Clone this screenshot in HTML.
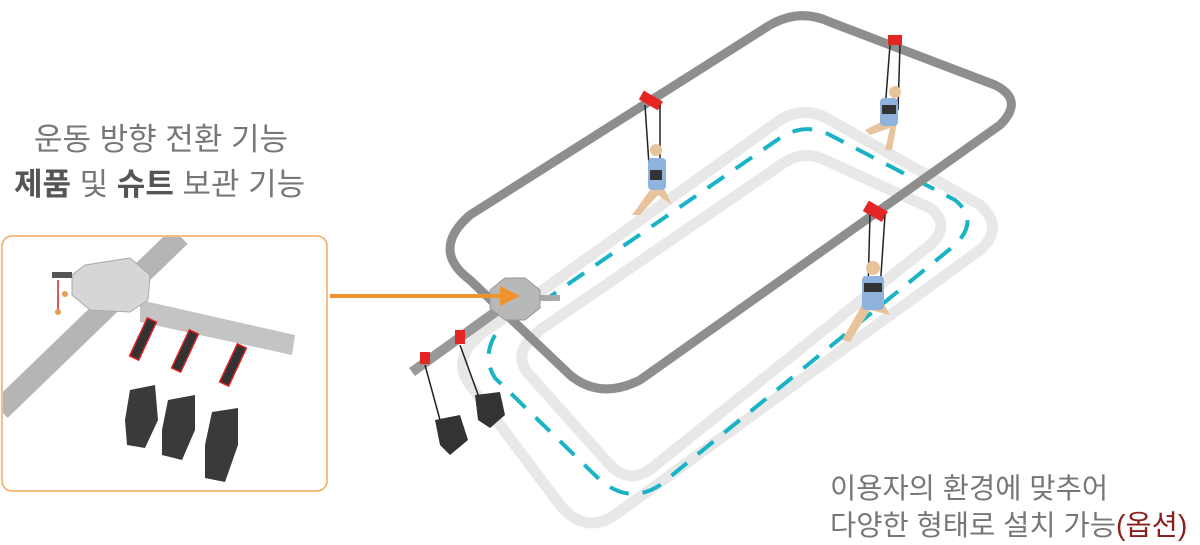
<!DOCTYPE html>
<html><head><meta charset="utf-8"><style>
html,body{margin:0;padding:0;background:#fff;}
body{width:1200px;height:545px;position:relative;overflow:hidden;font-family:"Liberation Sans","Noto Sans CJK KR",sans-serif;}
.t{position:absolute;color:#777;font-size:31px;white-space:nowrap;}
b{color:#555;}
</style></head><body>
<svg width="1200" height="545" style="position:absolute;left:0;top:0">
 <path d="M470,345 Q455,365 470,385 L560,505 Q585,535 615,515 L980,250 Q1005,228 980,205 L830,120 Q805,105 780,120 L480,335 Z" fill="none" stroke="#e8e8e8" stroke-width="11"/>
 <path d="M530,340 Q515,355 527,372 L610,465 Q630,485 652,468 L930,245 Q952,225 930,208 L825,160 Q805,150 785,162 L540,330 Z" fill="none" stroke="#e8e8e8" stroke-width="11"/>
 <path d="M495,335 Q482,358 495,378 L600,480 Q630,505 660,485 L955,245 Q980,220 955,200 L830,135 Q805,122 780,138 L545,300" fill="none" stroke="#19b3c6" stroke-width="4" stroke-dasharray="20,14"/>
 <path d="M470,280 Q430,250 470,215 L770,25 Q800,8 830,22 L995,85 Q1025,100 1000,125 L640,380 Q600,400 570,375 Z" fill="none" stroke="#8e8e8e" stroke-width="9" stroke-linejoin="round"/>
 <line x1="505" y1="305" x2="412" y2="372" stroke="#999" stroke-width="10"/>
 <line x1="530" y1="298" x2="560" y2="298" stroke="#aaa" stroke-width="6"/>
 <polygon points="505,278 525,278 540,290 540,308 525,320 505,320 490,308 490,290" fill="#b8b8b8" stroke="#999"/>
 <g fill="#e52424">
  <rect x="640" y="95" width="22" height="10" transform="rotate(30 650 100)"/>
  <rect x="888" y="35" width="14" height="10"/>
  <rect x="865" y="205" width="22" height="12" transform="rotate(30 875 210)"/>
  <rect x="420" y="352" width="10" height="12"/>
  <rect x="455" y="330" width="10" height="14"/>
 </g>
 <g stroke="#222" stroke-width="1.5" fill="none">
  <path d="M645,105 L650,180 M660,105 L660,180"/>
  <path d="M890,45 L885,110 M900,45 L898,110"/>
  <path d="M870,215 L868,290 M885,215 L880,290"/>
  <path d="M425,365 L440,420 M460,345 L480,400"/>
 </g>
 <g fill="#e7c49c">
  <circle cx="656" cy="150" r="6"/><path d="M650,190 L632,215 L640,215 L658,195 L672,205 L665,190Z"/>
  <circle cx="895" cy="92" r="6"/><path d="M885,120 L865,130 L870,135 L890,128 L885,150 L892,150 L897,122Z"/>
  <circle cx="873" cy="268" r="7"/><path d="M862,305 L842,340 L850,342 L870,310 L890,315 L882,300Z"/>
 </g>
 <g fill="#8fb3dc">
  <rect x="648" y="158" width="18" height="32" rx="4"/>
  <rect x="880" y="98" width="18" height="28" rx="4"/>
  <rect x="862" y="276" width="22" height="34" rx="4"/>
 </g>
 <g fill="#333">
  <path d="M435,420 L460,415 L468,440 L450,455 L440,445Z"/>
  <path d="M475,395 L500,392 L505,415 L490,428 L478,420Z"/>
  <rect x="650" y="170" width="12" height="10"/><rect x="882" y="105" width="14" height="9"/><rect x="864" y="283" width="18" height="9"/>
 </g>
 <line x1="330" y1="296" x2="505" y2="296" stroke="#f0922e" stroke-width="4"/>
 <polygon points="500,286 520,296 500,306" fill="#f0922e"/>
 <rect x="2" y="236" width="325" height="255" rx="10" fill="#fff" stroke="#f3a85a" stroke-width="1.5"/>
 <clipPath id="c"><rect x="3" y="237" width="323" height="253" rx="10"/></clipPath>
 <g clip-path="url(#c)">
  <line x1="180" y1="236" x2="0" y2="410" stroke="#b5b5b5" stroke-width="22"/>
  <path d="M140,300 L295,335 L292,355 L140,322Z" fill="#c4c4c4"/>
  <polygon points="85,265 130,258 150,275 148,300 130,312 90,310 72,295 72,275" fill="#d6d6d6" stroke="#aaa"/>
  <rect x="52" y="272" width="20" height="6" fill="#555"/>
  <line x1="58" y1="280" x2="58" y2="312" stroke="#c22" stroke-width="1.5"/>
  <circle cx="58" cy="312" r="3" fill="#e0a050"/><circle cx="65" cy="294" r="3" fill="#e0a050"/>
  <g fill="#333" stroke="#d22" stroke-width="1.5">
   <rect x="138" y="318" width="10" height="42" transform="rotate(25 143 339)"/>
   <rect x="180" y="330" width="10" height="42" transform="rotate(25 185 351)"/>
   <rect x="228" y="344" width="10" height="42" transform="rotate(25 233 365)"/>
  </g>
  <g fill="#3a3a3a">
   <path d="M130,390 L155,385 L158,420 L145,448 L127,445 L125,420Z"/>
   <path d="M168,400 L195,395 L195,430 L182,460 L162,455 L162,430Z"/>
   <path d="M212,412 L238,408 L238,445 L225,482 L205,478 L205,445Z"/>
  </g>
 </g>
</svg>
<div class="t" style="left:34px;top:114px;">운동 방향 전환 기능</div>
<div class="t" style="left:14px;top:159px;"><b>제품</b> 및 <b>슈트</b> 보관 기능</div>
<div class="t" style="left:830px;top:466px;font-size:28.5px;">이용자의 환경에 맞추어</div>
<div class="t" style="left:830px;top:503px;font-size:28.5px;">다양한 형태로 설치 가능<span style="color:#8b1e1e">(옵션)</span></div>
</body></html>
